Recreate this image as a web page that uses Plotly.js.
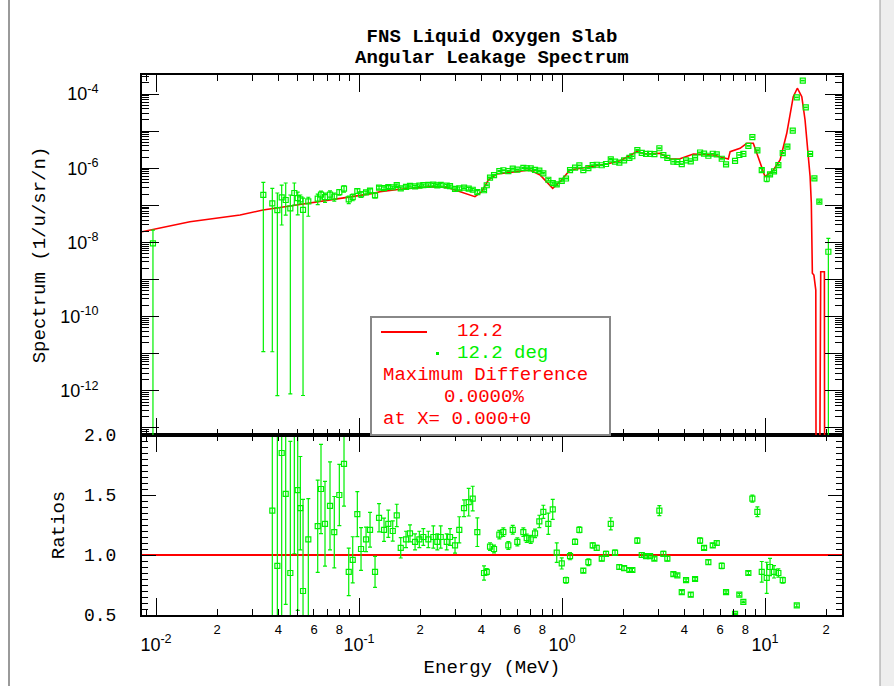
<!DOCTYPE html>
<html><head><meta charset="utf-8">
<script src="https://cdn.plot.ly/plotly-3.0.1.min.js"></script>
<style>html,body{margin:0;padding:0;background:#fff}</style>
</head><body><div id="chart" style="width:894px;height:686px"></div>
<script>
// ---- calculation (red line) ----
const calcEnergy = [0.00853, 0.01469, 0.02594, 0.03365, 0.04571, 0.06427, 0.08730, 0.1172, 0.1268, 0.1592, 0.2239, 0.2704, 0.3148, 0.3724, 0.4018, 0.4335, 0.4764, 0.5754, 0.6950, 0.7798, 0.8414, 0.8995, 0.9772, 1.094, 1.324, 1.660, 1.932, 2.333, 2.612, 3.041, 3.404, 3.811, 4.436, 5.559, 6.592, 6.730, 7.534, 8.128, 8.750, 9.268, 10.0, 10.99, 11.86, 12.79, 13.77, 14.42, 15.17, 15.74, 16.67, 16.9, 17.1, 17.4, 17.78, 18.0, 18.8, 19.6, 19.8];
const calcSpectrum = [1.94e-8, 3.61e-8, 5.48e-8, 7.46e-8, 9.57e-8, 1.25e-7, 1.64e-7, 2.10e-7, 2.33e-7, 2.70e-7, 3.17e-7, 3.05e-7, 2.33e-7, 1.71e-7, 2.33e-7, 4.81e-7, 6.98e-7, 8.05e-7, 8.93e-7, 6.56e-7, 4.33e-7, 2.87e-7, 4.33e-7, 8.93e-7, 1.06e-6, 1.30e-6, 1.59e-6, 2.79e-6, 2.42e-6, 2.52e-6, 1.77e-6, 1.80e-6, 2.42e-6, 2.27e-6, 1.77e-6, 2.79e-6, 3.44e-6, 4.69e-6, 4.69e-6, 1.85e-6, 5.90e-7, 8.93e-7, 1.66e-6, 8.73e-6, 8.45e-5, 1.43e-4, 8.45e-5, 1.99e-5, 5.90e-7, 1.15e-7, 1.48e-9, 1.32e-9, 5.2e-10, 1e-30, 1.62e-9, 1.62e-9, 1e-30];

// ---- experiment (green points, 12.2 deg) ----
const expEnergy = [0.00966, 0.03378, 0.03740, 0.03960, 0.04160, 0.04354, 0.04588, 0.04801, 0.04989, 0.05139, 0.05299, 0.05626,
 0.06259, 0.06497, 0.06799, 0.07196, 0.07554, 0.07998, 0.08434, 0.08898, 0.09311, 0.09809,
 0.1023, 0.1083, 0.1133, 0.1199, 0.1255, 0.1328, 0.1394, 0.1466, 0.1534, 0.1605,
 0.1704, 0.1783, 0.1888, 0.1982, 0.2074, 0.2195, 0.2323, 0.2430, 0.2526, 0.2704,
 0.2807, 0.2971, 0.3118, 0.3290, 0.3470, 0.3631, 0.3826, 0.4128, 0.4256, 0.4418,
 0.4624, 0.4910, 0.5139, 0.5438, 0.5716, 0.6023, 0.6448, 0.6699, 0.7010, 0.7362,
 0.7730, 0.8090, 0.8561, 0.9000, 0.9417, 0.9966, 1.046, 1.095, 1.159, 1.217,
 1.273, 1.348, 1.416, 1.482, 1.569, 1.647, 1.738, 1.824, 1.915, 2.021,
 2.146, 2.220, 2.349, 2.470, 2.593, 2.714, 2.850, 3.016, 3.155, 3.302,
 3.535, 3.698, 3.888, 4.082, 4.305, 4.521, 4.785, 5.007, 5.257, 5.526,
 5.782, 6.119, 6.425, 7.115, 7.471, 7.818, 8.275, 8.659, 9.165, 9.632,
 10.19, 10.58, 11.07, 11.63, 12.22,
 12.88, 13.69, 14.33, 15.34, 15.87, 16.67, 17.50, 18.51, 20.50];
const expSpectrum = [9.46e-9, 1.90e-7, 1.13e-7, 7.46e-8, 1.64e-7, 1.39e-7, 8.29e-8, 2.15e-7, 1.57e-7, 1.45e-7, 7.5e-8, 1.27e-7,
 1.52e-7, 1.95e-7, 1.66e-7, 1.95e-7, 1.72e-7, 2.28e-7, 2.81e-7, 1.44e-7, 1.66e-7, 2.43e-7,
 1.97e-7, 2.22e-7, 2.48e-7, 1.86e-7, 3.01e-7, 2.90e-7, 3.12e-7, 3.07e-7, 3.50e-7, 2.87e-7,
 3.15e-7, 3.36e-7, 3.24e-7, 3.38e-7, 3.52e-7, 3.55e-7, 3.62e-7, 3.46e-7, 3.56e-7, 3.39e-7,
 3.29e-7, 2.78e-7, 2.86e-7, 2.98e-7, 2.80e-7, 2.63e-7, 2.26e-7, 2.55e-7, 3.47e-7, 5.55e-7,
 6.50e-7, 8.36e-7, 8.81e-7, 8.32e-7, 9.70e-7, 9.16e-7, 1.02e-6, 9.98e-7, 9.89e-7, 9.04e-7,
 8.57e-7, 7.28e-7, 4.88e-7, 3.96e-7, 3.67e-7, 4.55e-7, 5.28e-7, 8.85e-7, 1.04e-6, 1.19e-6,
 8.89e-7, 1.01e-6, 1.21e-6, 1.24e-6, 1.20e-6, 1.30e-6, 1.74e-6, 1.51e-6, 1.42e-6, 1.62e-6,
 1.90e-6, 2.10e-6, 3.09e-6, 2.59e-6, 2.42e-6, 2.42e-6, 2.40e-6, 3.45e-6, 2.26e-6, 1.89e-6,
 1.50e-6, 1.49e-6, 1.29e-6, 1.63e-6, 1.53e-6, 1.92e-6, 2.65e-6, 2.48e-6, 2.17e-6, 2.45e-6,
 2.36e-6, 1.80e-6, 1.27e-6, 1.58e-6, 2.27e-6, 2.44e-6, 3.98e-6, 6.89e-6, 3.03e-6, 8.89e-7,
 5.20e-7, 6.81e-7, 8.18e-7, 1.21e-6, 2.56e-6,
 3.8e-6, 1.03e-5, 8.15e-5, 2.29e-4, 4.38e-5, 2.42e-6, 5.35e-7, 1.25e-7, 5.6e-9];
const ratioValue = [null, null, 1.37, 0.91, 1.85, 1.51, 0.85, 2.15, 1.54, 1.39, 0.70, 1.13,
 1.24, 1.55, 1.26, 1.41, 1.19, 1.50, 1.76, 0.86, 0.96, 1.34,
 1.05, 1.13, 1.21, 0.86, 1.31, 1.21, 1.26, 1.20, 1.33, 1.06,
 1.13, 1.18, 1.11, 1.13, 1.15, 1.13, 1.15, 1.11, 1.15, 1.11,
 1.15, 1.08, 1.21, 1.39, 1.44, 1.47, 1.19, 0.85, 0.86, 1.07,
 1.05, 1.17, 1.19, 1.08, 1.21, 1.11, 1.19, 1.14, 1.13, 1.18,
 1.28, 1.36, 1.26, 1.38, 1.02, 0.93, 0.79, 0.99, 1.11, 1.21,
 0.87, 0.94, 1.08, 1.06, 0.97, 1.01, 1.26, 1.02, 0.90, 0.89,
 0.875, 0.875, 1.12, 1.00, 0.99, 0.99, 0.97, 1.37, 1.01, 0.97,
 0.84, 0.83, 0.69, 0.79, 0.67, 0.80, 1.12, 1.06, 0.94, 1.08,
 1.10, 0.91, 0.69, 0.51, 0.67, 0.61, 0.85, 1.47, 1.36, 0.86,
 0.81, 0.90, 0.86, 0.85, 0.79,
 0.37, 0.13, 0.58, 3.9, 3.6, 4.1, null, null, null];
const relErrUp = [1.27, 1.19, 1.54, 1.88, 1.14, 1.87, 1.29, 0.86, 0.45, 0.31, 1.09, 0.30,
 0.31, 0.24, 0.28, 0.26, 0.25, 0.17, 0.20, 0.23, 0.20, 0.14,
 0.17, 0.09, 0.12, 0.15, 0.09, 0.08, 0.09, 0.07, 0.07, 0.08,
 0.06, 0.06, 0.06, 0.06, 0.06, 0.06, 0.08, 0.06, 0.08, 0.06,
 0.06, 0.06, 0.09, 0.05, 0.08, 0.07, 0.10, 0.07, 0.03, 0.03,
 0.03, 0.03, 0.03, 0.03, 0.03, 0.03, 0.03, 0.03, 0.03, 0.03,
 0.04, 0.04, 0.07, 0.06, 0.08, 0.05, 0.03, 0.03, 0.02, 0.02,
 0.02, 0.03, 0.02, 0.02, 0.02, 0.02, 0.04, 0.02, 0.02, 0.02,
 0.015, 0.015, 0.02, 0.02, 0.015, 0.015, 0.015, 0.03, 0.02, 0.02,
 0.02, 0.015, 0.02, 0.015, 0.025, 0.015, 0.02, 0.015, 0.02, 0.015,
 0.015, 0.025, 0.015, 0.01, 0.015, 0.01, 0.015, 0.02, 0.03, 0.10,
 0.16, 0.08, 0.06, 0.04, 0.03,
 0.03, 0.02, 0.02, 0.02, 0.02, 0.03, 0.03, 0.05, 1.29];
const relErrDn = [1.0, 0.99994, 0.9999, 0.99999, 0.82, 0.61, 0.99999, 0.53, 0.65, 0.25, 0.99999, 0.60,
 0.31, 0.24, 0.28, 0.26, 0.25, 0.17, 0.20, 0.23, 0.20, 0.14,
 0.17, 0.09, 0.12, 0.15, 0.09, 0.08, 0.09, 0.07, 0.07, 0.08,
 0.06, 0.06, 0.06, 0.06, 0.06, 0.06, 0.08, 0.06, 0.08, 0.06,
 0.06, 0.06, 0.09, 0.05, 0.08, 0.07, 0.10, 0.07, 0.03, 0.03,
 0.03, 0.03, 0.03, 0.03, 0.03, 0.03, 0.03, 0.03, 0.03, 0.03,
 0.04, 0.04, 0.07, 0.06, 0.08, 0.05, 0.03, 0.03, 0.02, 0.02,
 0.02, 0.03, 0.02, 0.02, 0.02, 0.02, 0.04, 0.02, 0.02, 0.02,
 0.015, 0.015, 0.02, 0.02, 0.015, 0.015, 0.015, 0.03, 0.02, 0.02,
 0.02, 0.015, 0.02, 0.015, 0.025, 0.015, 0.02, 0.015, 0.02, 0.015,
 0.015, 0.025, 0.015, 0.01, 0.015, 0.01, 0.015, 0.02, 0.03, 0.10,
 0.16, 0.08, 0.06, 0.04, 0.03,
 0.03, 0.02, 0.02, 0.02, 0.02, 0.03, 0.03, 0.05, 1.0];

// ---- tick labels ----
const xDecadeTicks = [0.01, 0.1, 1, 10];
const xDecadeLabels = ['10<sup>-2</sup>', '10<sup>-1</sup>', '10<sup>0</sup>', '10<sup>1</sup>'];
const xDigitTicks = [0.02, 0.04, 0.06, 0.08, 0.2, 0.4, 0.6, 0.8, 2, 4, 6, 8, 20];
const xDigitLabels = ['2', '4', '6', '8', '2', '4', '6', '8', '2', '4', '6', '8', '2'];
const yLabelTicks = [1e-12, 1e-10, 1e-8, 1e-6, 1e-4];
const yLabelText = ['10<sup>-12</sup>', '10<sup>-10</sup>', '10<sup>-8</sup>', '10<sup>-6</sup>', '10<sup>-4</sup>'];
const yOddDecades = [1e-13, 1e-11, 1e-9, 1e-7, 1e-5];
const ratioTicks = [0.5, 1.0, 1.5, 2.0];
const ratioLabels = ['0.5', '1.0', '1.5', '2.0'];

// ---- derived error arrays ----
const expErrUp = expSpectrum.map((v, i) => v * relErrUp[i]);
const expErrDn = expSpectrum.map((v, i) => v * relErrDn[i]);
const ratioErrUp = ratioValue.map((v, i) => v == null ? null : v * relErrUp[i]);
const ratioErrDn = ratioValue.map((v, i) => v == null ? null : v * relErrDn[i]);

function minorLog(d0, d1) {
  const out = [];
  for (let k = d0; k <= d1; k++) for (let m = 2; m <= 9; m++) out.push(m * Math.pow(10, k));
  return out;
}
const GREEN = '#00f000', RED = '#ff0000';
const MONO = 'Liberation Mono, Courier New, monospace';
const SANS = 'Liberation Sans, Arial, sans-serif';

const traces = [
  {x: calcEnergy, y: calcSpectrum, xaxis: 'x2', yaxis: 'y', type: 'scatter', mode: 'lines',
   line: {color: RED, width: 1.6}, name: '12.2', hoverinfo: 'skip'},
  {x: expEnergy, y: expSpectrum, xaxis: 'x2', yaxis: 'y', type: 'scatter', mode: 'markers',
   marker: {symbol: 'square-open', size: 5, color: GREEN, line: {width: 1.2, color: GREEN}},
   error_y: {type: 'data', symmetric: false, array: expErrUp, arrayminus: expErrDn, color: GREEN, thickness: 1.2, width: 2},
   name: '12.2 deg'},
  {x: expEnergy, y: ratioValue, xaxis: 'x', yaxis: 'y2', type: 'scatter', mode: 'markers',
   marker: {symbol: 'square-open', size: 5, color: GREEN, line: {width: 1.2, color: GREEN}},
   error_y: {type: 'data', symmetric: false, array: ratioErrUp, arrayminus: ratioErrDn, color: GREEN, thickness: 1.2, width: 2},
   name: 'ratio'},
  // carriers for the overlay axes (nothing drawn)
  {x: expEnergy, y: ratioValue, xaxis: 'x3', yaxis: 'y2', type: 'scatter', mode: 'none', hoverinfo: 'skip'},
  {x: expEnergy, y: expSpectrum, xaxis: 'x2', yaxis: 'y3', type: 'scatter', mode: 'none', hoverinfo: 'skip'}
];

const axCommon = {showgrid: false, zeroline: false, showline: true, linewidth: 2, linecolor: '#000',
  mirror: 'ticks', ticks: 'inside', tickcolor: '#000', tickwidth: 1};
const xRange = [-2.069, 1.379];
const yRange = [-13.19, -3.488];
const px = v => (v - 142) / 700;   // pixel -> paper x
const py = v => (615 - v) / 540;   // pixel -> paper y

const layout = {
  width: 894, height: 686,
  margin: {l: 142, r: 52, t: 75, b: 71},
  paper_bgcolor: '#ffffff', plot_bgcolor: '#ffffff',
  showlegend: false,
  font: {family: SANS, color: '#000'},
  title: {text: 'FNS Liquid Oxygen Slab', font: {family: MONO, size: 19, color: '#000', weight: 'bold'},
          xref: 'paper', x: 0.5, xanchor: 'center', yref: 'container', y: 1 - 35 / 686, yanchor: 'middle'},
  xaxis: Object.assign({}, axCommon, {type: 'log', domain: [0, 1], anchor: 'y2', range: xRange,
    tickmode: 'array', tickvals: xDecadeTicks, ticktext: xDecadeLabels, ticklen: 17,
    tickfont: {family: SANS, size: 18}, ticklabelstandoff: 12,
    minor: {tickmode: 'array', tickvals: minorLog(-3, 1), ticks: 'inside', ticklen: 6, tickcolor: '#000', tickwidth: 1, showgrid: false},
    title: {text: 'Energy (MeV)', font: {family: MONO, size: 19, color: '#000'}, standoff: 6}}),
  xaxis3: {type: 'log', overlaying: 'x', anchor: 'y2', side: 'bottom', range: xRange, showgrid: false, zeroline: false,
    showline: false, ticks: '', tickmode: 'array', tickvals: xDigitTicks, ticktext: xDigitLabels,
    tickfont: {family: SANS, size: 13}, ticklabelstandoff: 5},
  xaxis2: Object.assign({}, axCommon, {type: 'log', domain: [0, 1], anchor: 'y', range: xRange,
    tickmode: 'array', tickvals: xDecadeTicks, ticklen: 17, showticklabels: false,
    minor: {tickmode: 'array', tickvals: minorLog(-3, 1), ticks: 'inside', ticklen: 6, tickcolor: '#000', tickwidth: 1, showgrid: false}}),
  yaxis: Object.assign({}, axCommon, {type: 'log', domain: [1 / 3, 1], anchor: 'x2', range: yRange,
    tickmode: 'array', tickvals: yLabelTicks, ticktext: yLabelText, ticklen: 17,
    tickfont: {family: SANS, size: 18}, ticklabelstandoff: 38,
    minor: {tickmode: 'array', tickvals: minorLog(-14, -4), ticks: 'inside', ticklen: 7, tickcolor: '#000', tickwidth: 1, showgrid: false},
    title: {text: 'Spectrum (1/u/sr/n)', font: {family: MONO, size: 19, color: '#000'}, standoff: 10}}),
  yaxis3: Object.assign({}, axCommon, {type: 'log', overlaying: 'y', anchor: 'x2', side: 'left', range: yRange,
    tickmode: 'array', tickvals: yOddDecades, ticklen: 17, showticklabels: false}),
  yaxis2: Object.assign({}, axCommon, {domain: [0, 1 / 3], anchor: 'x', range: [0.5, 2.0],
    tickmode: 'array', tickvals: ratioTicks, ticktext: ratioLabels, ticklen: 14,
    tickfont: {family: MONO, size: 18}, ticklabelstandoff: 20,
    minor: {tickmode: 'linear', tick0: 0.5, dtick: 0.05, ticks: 'inside', ticklen: 6, tickcolor: '#000', tickwidth: 1, showgrid: false},
    title: {text: 'Ratios', font: {family: MONO, size: 19, color: '#000'}, standoff: 14}}),
  shapes: [
    {type: 'line', xref: 'x domain', yref: 'y2', x0: 0, x1: 1, y0: 1, y1: 1, line: {color: RED, width: 2}, layer: 'below'},
    {type: 'rect', xref: 'paper', yref: 'paper', x0: px(371), x1: px(610), y0: py(435), y1: py(317),
     fillcolor: '#ffffff', line: {color: '#888888', width: 2}, layer: 'above'},
    {type: 'line', xref: 'paper', yref: 'paper', x0: px(381), x1: px(427), y0: py(332), y1: py(332), line: {color: RED, width: 2}, layer: 'above'},
    {type: 'rect', xref: 'paper', yref: 'paper', x0: px(436), x1: px(439), y0: py(355), y1: py(352), fillcolor: GREEN, line: {width: 0}, layer: 'above'},
    // window frame of the original screenshot
    {type: 'line', xref: 'paper', yref: 'paper', x0: px(9), x1: px(9), y0: py(686), y1: py(0), line: {color: '#9a9a9a', width: 2}, layer: 'below'},
    {type: 'rect', xref: 'paper', yref: 'paper', x0: px(880), x1: px(896), y0: py(688), y1: py(-2), fillcolor: '#eeeeee', line: {color: '#9a9a9a', width: 1}, layer: 'below'}
  ],
  annotations: [
    {text: 'Angular Leakage Spectrum', xref: 'paper', yref: 'paper', x: 0.5, y: py(58), xanchor: 'center', yanchor: 'middle',
     showarrow: false, font: {family: MONO, size: 19, color: '#000', weight: 'bold'}},
    {text: '12.2', xref: 'paper', yref: 'paper', x: px(455), y: py(331), xanchor: 'left', yanchor: 'middle', showarrow: false, font: {family: MONO, size: 19, color: RED}},
    {text: '12.2 deg', xref: 'paper', yref: 'paper', x: px(455), y: py(353), xanchor: 'left', yanchor: 'middle', showarrow: false, font: {family: MONO, size: 19, color: GREEN}},
    {text: 'Maximum Difference', xref: 'paper', yref: 'paper', x: px(381), y: py(375), xanchor: 'left', yanchor: 'middle', showarrow: false, font: {family: MONO, size: 19, color: RED}},
    {text: '0.0000%', xref: 'paper', yref: 'paper', x: px(442), y: py(397), xanchor: 'left', yanchor: 'middle', showarrow: false, font: {family: MONO, size: 19, color: RED}},
    {text: 'at X= 0.000+0', xref: 'paper', yref: 'paper', x: px(381), y: py(419), xanchor: 'left', yanchor: 'middle', showarrow: false, font: {family: MONO, size: 19, color: RED}}
  ]
};

Plotly.newPlot('chart', traces, layout, {displayModeBar: false, staticPlot: true});
</script>
</body></html>
